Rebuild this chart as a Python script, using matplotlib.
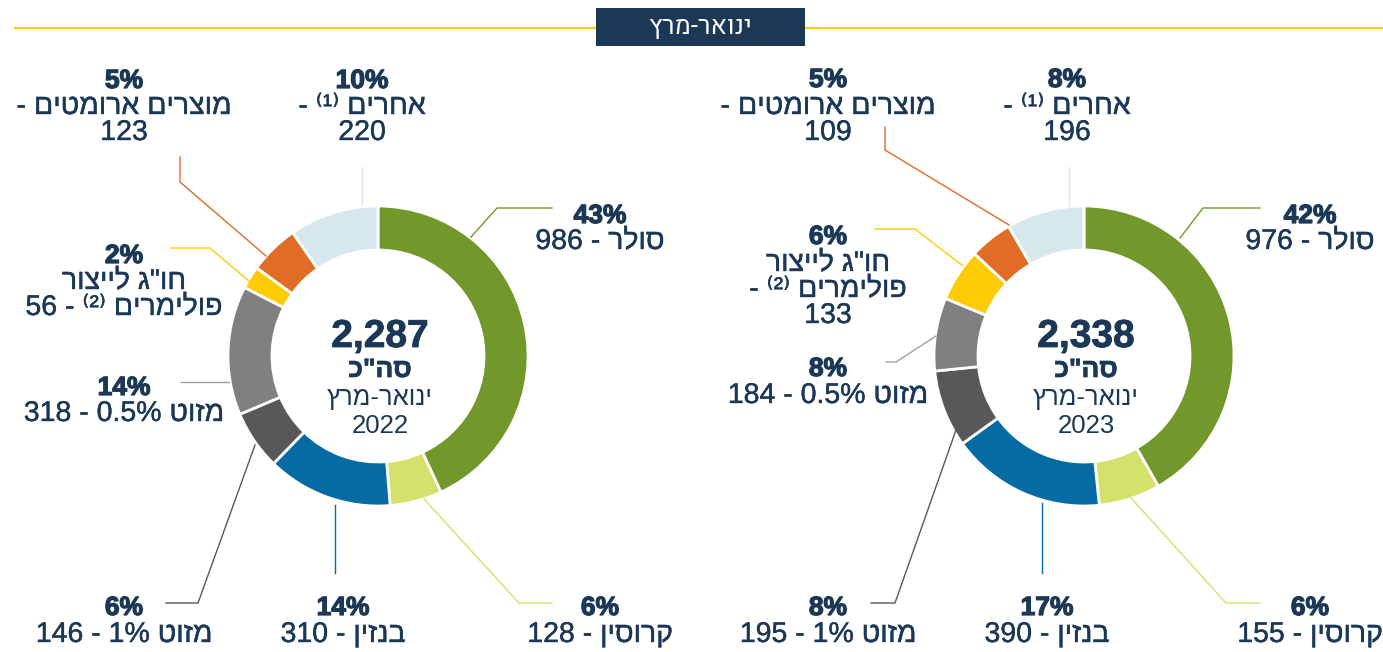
import re
import matplotlib
matplotlib.use("Agg")
import matplotlib.pyplot as plt
import matplotlib.patheffects as pe
from matplotlib.patches import Rectangle

# data (thousand tons), clockwise from 12 o'clock
categories = ["סולר", "קרוסין", "בנזין", "מזוט 1%", "מזוט 0.5%", "חו\"ג לייצור פולימרים", "מוצרים ארומטים", "אחרים"]
values_2022 = [986, 128, 310, 146, 318, 56, 123, 220]
values_2023 = [976, 155, 390, 195, 184, 133, 109, 196]
pct_2022 = [43, 6, 14, 6, 14, 2, 5, 10]
pct_2023 = [42, 6, 17, 8, 8, 6, 5, 8]
years = ["2022", "2023"]
period = "ינואר-מרץ"
total_label = "סה\"כ"

colors = ["#72972a", "#d4e16a", "#066ba3", "#58585a", "#808080", "#ffcb05", "#e06c26", "#d6e8ed"]
line_colors = ["#72972a", "#d4e16a", "#066ba3", "#58585a", "#a0a0a0", "#ffcb05", "#e06c26", "#d6e8ed"]

# label text (logical order), {v} = value
lines_2022 = [["סולר - {v}"], ["קרוסין - {v}"], ["בנזין - {v}"], ["מזוט 1% - {v}"],
              ["מזוט 0.5% - {v}"], ["חו\"ג לייצור", "פולימרים ⁽²⁾ - {v}"],
              ["מוצרים ארומטים -", "{v}"], ["אחרים ⁽¹⁾ -", "{v}"]]
lines_2023 = [["סולר - {v}"], ["קרוסין - {v}"], ["בנזין - {v}"], ["מזוט 1% - {v}"],
              ["מזוט 0.5% - {v}"], ["חו\"ג לייצור", "פולימרים ⁽²⁾ -", "{v}"],
              ["מוצרים ארומטים -", "{v}"], ["אחרים ⁽¹⁾ -", "{v}"]]

W, H = 1383, 652
NAVY = "#1b3857"
REG = ["Liberation Sans", "DejaVu Sans"]
TITLE_F = ["Heebo", "Liberation Sans", "DejaVu Sans"]


def heavy(w):
    # thicken glyphs a little (no medium/black weights installed)
    return [pe.withStroke(linewidth=w, foreground=NAVY)]


def rtl(s):
    # crude visual ordering for matplotlib (no bidi support)
    r = s[::-1]
    r = re.sub(r'[0-9.,%]+', lambda m: m.group(0)[::-1], r)
    return r.translate(str.maketrans('()⁽⁾', ')(⁾⁽'))


def Y(y):
    return H - y


# layout in pixels from top-left: (x, centre y of pct, centre y of each line), leader points
layout_2022 = [
    ((600, 213, [239]), [(471, 237), (497, 208), (552, 208)]),
    ((600, 605, [632]), [(424, 499), (519, 603), (552, 603)]),
    ((343, 605, [632]), [(335, 505), (335, 573)]),
    ((124, 605, [632]), [(255, 445), (198, 603), (166, 603)]),
    ((124, 385, [411]), [(229, 382), (181, 382)]),
    ((124, 253, [279, 305]), [(250, 282), (210, 248), (171, 248)]),
    ((124, 78, [104, 130]), [(266, 256), (180, 182), (180, 157)]),
    ((362, 78, [104, 130]), [(362, 205), (362, 167)]),
]
layout_2023 = [
    ((1310, 213, [239]), [(1180, 238), (1203, 208), (1260, 208)]),
    ((1310, 605, [632]), [(1131, 498), (1226, 603), (1260, 603)]),
    ((1047, 605, [632]), [(1042, 503), (1042, 573)]),
    ((828, 605, [632]), [(956, 430), (895, 603), (871, 603)]),
    ((828, 366, [393]), [(936, 336), (896, 362), (886, 362)]),
    ((828, 234, [261, 287, 313]), [(963, 266), (915, 229), (875, 229)]),
    ((828, 77, [104, 130]), [(1009, 225), (885, 150), (885, 127)]),
    ((1067, 77, [104, 130]), [(1069, 206), (1069, 167)]),
]

fig = plt.figure(figsize=(W / 100, H / 100), dpi=100)
ax = fig.add_axes([0, 0, 1, 1])

charts = [(values_2022, pct_2022, lines_2022, layout_2022, (378, 356), years[0]),
          (values_2023, pct_2023, lines_2023, layout_2023, (1084, 356), years[1])]

for vals, pcts, lines, lay, (cx, cy), yr in charts:
    ax.pie(vals, colors=colors, center=(cx, Y(cy)), radius=150, startangle=90,
           counterclock=False, wedgeprops=dict(width=44, edgecolor="white", linewidth=2))
    for i in range(len(vals)):
        (tx, ty, ly), pts = lay[i]
        ax.plot([p[0] for p in pts], [Y(p[1]) for p in pts], color=line_colors[i], lw=1.0, zorder=1)
        ax.text(tx, Y(ty + 10), "%d%%" % pcts[i], ha="center", va="baseline", fontsize=19,
                fontweight="bold", family=REG, color=NAVY, path_effects=heavy(0.9))
        for txt, yy in zip(lines[i], ly):
            ax.text(tx, Y(yy + 10), rtl(txt.format(v=vals[i])), ha="center", va="baseline",
                    fontsize=20.5, family=REG, color=NAVY, path_effects=heavy(0.3))
    total = sum(vals)
    ax.text(cx + 2, Y(347), "{:,}".format(total), ha="center", va="baseline", fontsize=28,
            fontweight="bold", family=REG, color=NAVY, path_effects=heavy(0.6))
    ax.text(cx + 2, Y(377), rtl(total_label), ha="center", va="baseline", fontsize=19,
            fontweight="bold", family=REG, color=NAVY, path_effects=heavy(0.5))
    ax.text(cx + 2, Y(405), rtl(period), ha="center", va="baseline", fontsize=18.5,
            family=REG, color=NAVY)
    ax.text(cx + 2, Y(433), yr, ha="center", va="baseline", fontsize=18.5,
            family=REG, color=NAVY)

# header
ax.plot([15, W], [Y(28), Y(28)], color="#f8cc1b", lw=1.6, zorder=2)
ax.add_patch(Rectangle((596, Y(46)), 209, 38, facecolor=NAVY, edgecolor="none", zorder=3))
ax.text(700, Y(27), rtl(period), ha="center", va="center", fontsize=18.5,
        family=TITLE_F, color="white", zorder=4)

ax.set_xlim(0, W)
ax.set_ylim(0, H)
ax.set_aspect("equal")
ax.axis("off")
fig.savefig("out.png", dpi=100)
